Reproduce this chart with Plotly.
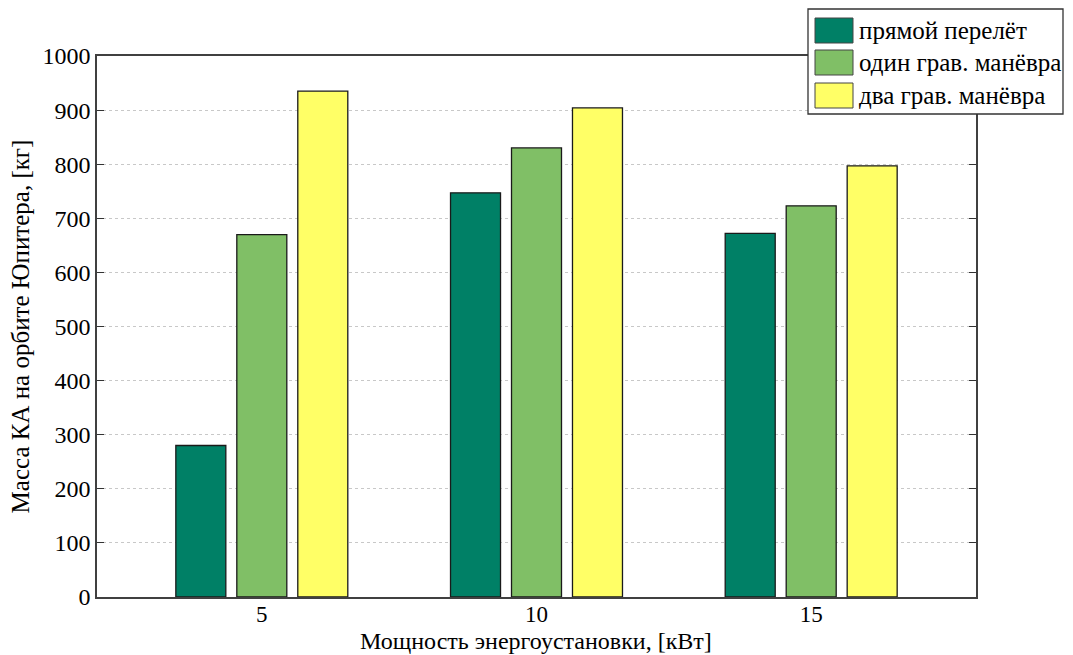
import plotly.graph_objects as go

categories = [5, 10, 15]
series_names = ["прямой перелёт", "один грав. манёвра", "два грав. манёвра"]
direct = [280, 747, 672]
one_gravity = [670, 830, 723]
two_gravity = [935, 904, 797]
colors = ["#008066", "#80BF66", "#FFFF66"]
y_ticks = list(range(0, 1001, 100))

W, H = 1073, 655
L, R, T, B = 97, 976, 56, 597

fig = go.Figure()
for name, vals, c in zip(series_names, [direct, one_gravity, two_gravity], colors):
    fig.add_trace(go.Bar(x=categories, y=vals, name=name, marker=dict(color=c, line=dict(color="#1a1a1a", width=1.3)),
                         showlegend=False, hoverinfo="skip"))

font = "Liberation Serif"

def px(x):
    return (x - L) / (R - L)

def py(y):
    return (B - y) / (B - T)

shapes = []
annotations = []
# legend box
shapes.append(dict(type="rect", xref="paper", yref="paper", x0=px(808), x1=px(1063), y0=py(114), y1=py(9),
                   line=dict(color="#333333", width=1.3), fillcolor="white", layer="above"))
rows = [(18, 43), (50, 75), (83, 108)]
for (y0, y1), name, c in zip(rows, series_names, colors):
    shapes.append(dict(type="rect", xref="paper", yref="paper", x0=px(815), x1=px(853), y0=py(y1), y1=py(y0),
                       line=dict(color="#444444", width=1), fillcolor=c, layer="above"))
    annotations.append(dict(xref="paper", yref="paper", x=px(857), y=py((y0 + y1) / 2), text=name, showarrow=False,
                            xanchor="left", yanchor="middle", font=dict(family=font, size=25, color="black")))

# x-axis title
annotations.append(dict(xref="paper", yref="paper", x=px(536), y=py(655), text="Мощность энергоустановки, [кВт]",
                        showarrow=False, xanchor="center", yanchor="bottom", font=dict(family=font, size=24, color="black"),
                        borderpad=0))

fig.update_layout(
    width=W, height=H,
    margin=dict(l=L, r=W - R, t=T, b=H - B, autoexpand=False),
    paper_bgcolor="white", plot_bgcolor="white",
    barmode="group", bargap=0.334, bargroupgap=0.18,
    font=dict(family=font, size=24, color="black"),
    shapes=shapes, annotations=annotations,
    xaxis=dict(range=[2, 18], tickvals=categories, ticktext=[str(c) for c in categories], ticks="",
               showgrid=False, zeroline=False, showline=True, linecolor="#404040", linewidth=1.5, mirror=True,
               tickfont=dict(size=23), ticklabelstandoff=-4, automargin=False),
    yaxis=dict(range=[0, 1000], tickvals=y_ticks, ticks="inside", ticklen=7, tickcolor="#333333", tickwidth=1.3,
               showgrid=True, gridcolor="#c8c8c8", griddash="dot", gridwidth=1, zeroline=False,
               showline=True, linecolor="#404040", linewidth=1.5, mirror="ticks",
               title=dict(text="Масса КА на орбите Юпитера, [кг]", standoff=6, font=dict(size=25)),
               tickfont=dict(size=24), automargin=False),
)

fig.write_html("out.html", post_script="document.body.style.margin='0';", config={"displayModeBar": False})
